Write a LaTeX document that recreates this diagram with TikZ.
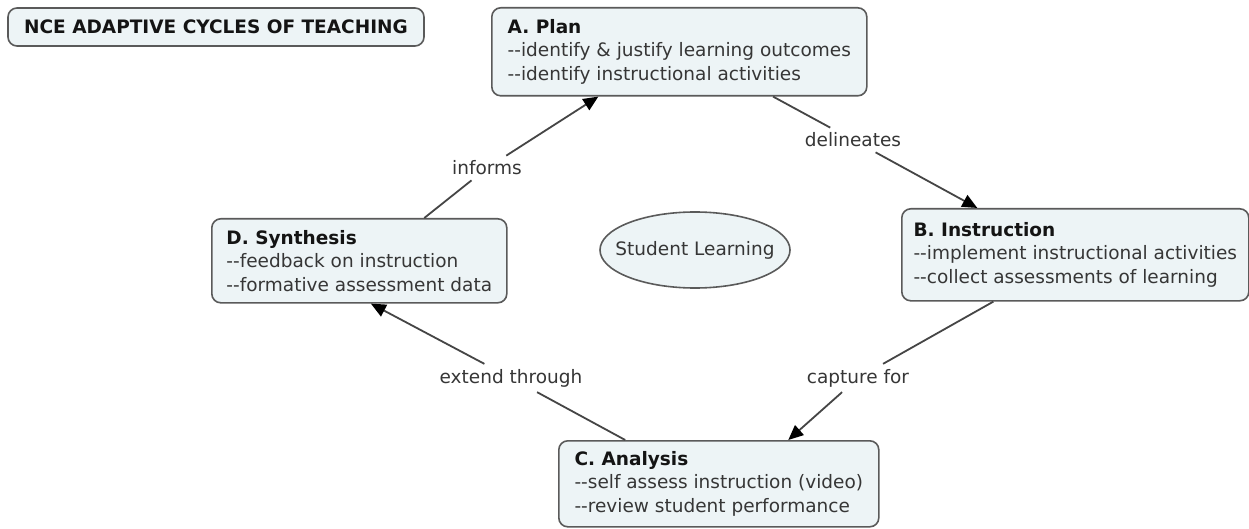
\documentclass[tikz,border=0pt]{standalone}
\usepackage{fontspec}
\setmainfont{DejaVu Sans}
\usetikzlibrary{arrows.meta,calc,shapes.geometric}
\definecolor{boxfill}{HTML}{EDF4F6}
\definecolor{boxline}{HTML}{5A5A5A}
\definecolor{txt}{HTML}{363636}
\definecolor{headtxt}{HTML}{141414}
\definecolor{conn}{HTML}{454545}
\newcommand\dblhy{-\kern0pt-}
\begin{document}
\begin{tikzpicture}[x=1pt,y=-1pt,
  every node/.style={font=\fontsize{18.5}{23.5}\selectfont, text=txt},
  cbox/.style={draw=boxline, fill=boxfill, line width=1.6pt, rounded corners=9pt,
    anchor=north west, align=left, inner xsep=0pt, inner ysep=0pt},
  lbl/.style={inner sep=5pt},
  conn/.style={draw=conn, line width=1.8pt},
  arr/.style={conn, -{Triangle[length=15pt,width=13pt,color=black]}}
]
\useasboundingbox (0,0) rectangle (1249,529);
\fill[white] (0,0) rectangle (1249,529);

\node[draw=boxline, fill=boxfill, line width=1.6pt, rounded corners=9pt,
  minimum width=416pt, minimum height=38pt, inner sep=0pt, text=headtxt]
  (T) at (216,27) {\textbf{NCE ADAPTIVE CYCLES OF TEACHING}};

\node[cbox, minimum width=375pt, minimum height=88pt] (A) at (491,7)
  {\textcolor{headtxt}{\textbf{A. Plan}}\\\dblhy identify \& justify learning outcomes\\\dblhy identify instructional activities};
\node[cbox, minimum width=347pt, minimum height=92pt] (B) at (901,208)
  {\textcolor{headtxt}{\textbf{B. Instruction}}\\\dblhy implement instructional activities\\\dblhy collect assessments of learning};
\node[cbox, minimum width=320pt, minimum height=86pt] (C) at (558,440)
  {\textcolor{headtxt}{\textbf{C. Analysis}}\\\dblhy self assess instruction (video)\\\dblhy review student performance};
\node[cbox, minimum width=295pt, minimum height=84pt] (D) at (211,218)
  {\textcolor{headtxt}{\textbf{D. Synthesis}}\\\dblhy feedback on instruction\\\dblhy formative assessment data};

\coordinate (Sc) at (695,250);
\draw[draw=boxline, fill=boxfill, line width=1.6pt] (Sc) ellipse [x radius=95pt, y radius=38pt];
\node (S) at (Sc) {Student Learning};

\node[lbl] (L1) at (487,168) {informs};
\node[lbl] (L2) at (853,140) {delineates};
\node[lbl] (L3) at (858,378) {capture for};
\node[lbl] (L4) at (511,378) {extend through};

\coordinate (sD) at ($(D.north west)!0.719!(D.north east)$);
\coordinate (tA) at ($(A.south west)!0.285!(A.south east)$);
\coordinate (sA) at ($(A.south west)!0.749!(A.south east)$);
\coordinate (tB) at ($(B.north west)!0.219!(B.north east)$);
\coordinate (sB) at ($(B.south west)!0.265!(B.south east)$);
\coordinate (tC) at ($(C.north west)!0.716!(C.north east)$);
\coordinate (sC) at ($(C.north west)!0.209!(C.north east)$);
\coordinate (tD) at ($(D.south west)!0.539!(D.south east)$);

\draw[conn] (sD) -- (L1);
\draw[arr] (L1) -- (tA);
\draw[conn] (sA) -- (L2);
\draw[arr] (L2) -- (tB);
\draw[conn] (sB) -- (L3);
\draw[arr] (L3) -- (tC);
\draw[conn] (sC) -- (L4);
\draw[arr] (L4) -- (tD);
\end{tikzpicture}
\end{document}
